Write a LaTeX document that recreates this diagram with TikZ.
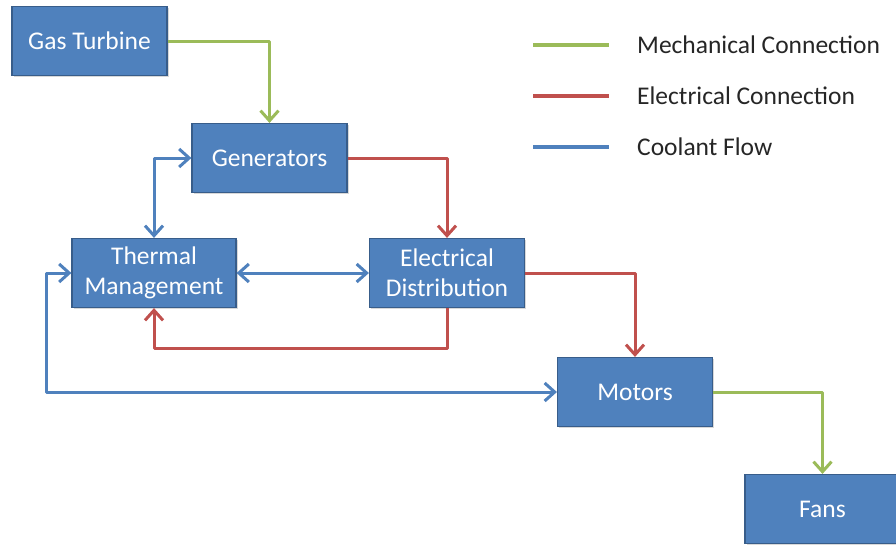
\documentclass[tikz,border=0pt]{standalone}
\usepackage{fontspec}
\setmainfont{Carlito}
\usetikzlibrary{arrows.meta,shadows}
\definecolor{boxfill}{HTML}{4F81BD}
\definecolor{boxline}{HTML}{385D8A}
\definecolor{mechgreen}{HTML}{9BBB59}
\definecolor{elecred}{HTML}{C0504D}
\definecolor{coolblue}{HTML}{4F81BD}
\begin{document}
\begin{tikzpicture}[x=1pt,y=-1pt,
  blk/.style={draw=boxline, line width=1.2pt, fill=boxfill, text=white,
    minimum width=155pt, minimum height=69pt, inner sep=0pt, align=center,
    font=\fontsize{25.5}{30}\selectfont,
    drop shadow={opacity=0.3, shadow xshift=1.5pt, shadow yshift=-1.5pt}},
  conn/.style={line width=3pt, line join=round,
    -{Straight Barb[length=10pt,width=18pt,line width=3pt]}},
  bconn/.style={line width=3pt, line join=round,
    {Straight Barb[length=10pt,width=18pt,line width=3pt]}-{Straight Barb[length=10pt,width=18pt,line width=3pt]}},
  mech/.style={conn, draw=mechgreen},
  elec/.style={conn, draw=elecred},
  cool/.style={bconn, draw=coolblue},
  legline/.style={line width=4pt},
  legtext/.style={anchor=west, inner sep=0pt, font=\fontsize{25.5}{30}\selectfont, text=black!85}
]
\clip (0,0) rectangle (896,544);
\fill[white] (0,0) rectangle (896,544);

\node[blk] (gt) at (89.5,41) {Gas Turbine};
\node[blk] (gen) at (269.5,158) {Generators};
\node[blk, minimum width=164pt] (tm) at (154,273) {Thermal\\Management};
\node[blk] (ed) at (447,273) {Electrical\\Distribution};
\node[blk] (mot) at (635,392) {Motors};
\node[blk] (fans) at (822.5,509) {Fans};

\draw[mech] (gt.east) -| (gen.north);
\draw[elec] (gen.east) -| (ed.north);
\draw[elec] (ed.east) -| (mot.north);
\draw[elec] (ed.south) -- ++(0,40) -| (tm.south);
\draw[mech] (mot.east) -| (fans.north);
\draw[cool] (gen.west) -| (tm.north);
\draw[cool] (tm.east) -- (ed.west);
\draw[cool] (tm.west) -- ++(-25,0) |- (mot.west);

\coordinate (l1a) at (533,45); \coordinate (l1b) at (609,45);
\coordinate (l2a) at (533,96); \coordinate (l2b) at (609,96);
\coordinate (l3a) at (533,147); \coordinate (l3b) at (609,147);
\draw[legline, mechgreen] (l1a) -- (l1b);
\draw[legline, elecred] (l2a) -- (l2b);
\draw[legline, coolblue] (l3a) -- (l3b);
\node[legtext] (t1) at (637,45) {Mechanical Connection};
\node[legtext] (t2) at (637,96) {Electrical Connection};
\node[legtext] (t3) at (637,147) {Coolant Flow};
\end{tikzpicture}
\end{document}
